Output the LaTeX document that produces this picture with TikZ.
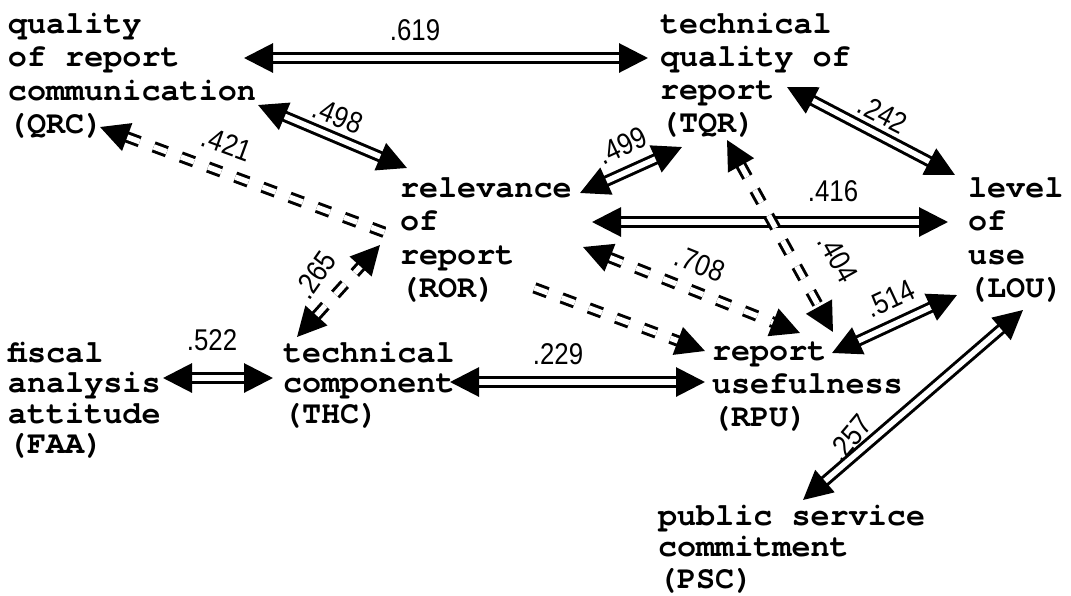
\documentclass[tikz,border=0pt]{standalone}
\usepackage{fontspec}
\usetikzlibrary{arrows.meta}
\newfontfamily\typefont{texgyrecursor-bold.otf}
\newfontfamily\numfont[FakeStretch=0.86]{Liberation Sans}
\newcommand\firstline{\rule{0pt}{24pt}}
\pgfdeclarelayer{edges}
\pgfdeclarelayer{mask}
\pgfsetlayers{edges,mask,main}

\tikzset{
  var/.style={anchor=north west, inner sep=0pt, outer sep=0pt, align=left,
    font=\typefont\fontsize{31.8}{#1}\selectfont},
  var/.default=33.5,
  link/.style={draw=black, line width=3pt, double=white, double distance=5.5pt,
    arrows={Triangle[length=29pt,width=29pt]-Triangle[length=29pt,width=29pt]}},
  broken/.style={link, dash pattern=on 14pt off 15pt},
  coef/.style={inner sep=0pt, font=\numfont\fontsize{30}{30}\selectfont},
}

\begin{document}
\begin{tikzpicture}[x=1pt, y=-1pt]
\useasboundingbox (0,0) rectangle (1071,595);

% variables
\node[var=33.5] (QRC) at (8,9)     {\firstline quality\\of report\\communication\\(QRC)};
\node[var=33]   (TQR) at (660,9)   {\firstline technical\\quality of\\report\\(TQR)};
\node[var]      (ROR) at (400,173) {\firstline relevance\\of\\report\\(ROR)};
\node[var]      (LOU) at (968,173) {\firstline level\\of\\use\\(LOU)};
\node[var=30.5] (FAA) at (8,338)   {\firstline fiscal\\analysis\\attitude\\(FAA)};
\node[var=30.5] (THC) at (283,338) {\firstline technical\\component\\(THC)};
\node[var=33]   (RPU) at (712,336) {\firstline report\\usefulness\\(RPU)};
\node[var=31.5] (PSC) at (658,501) {\firstline public service\\commitment\\(PSC)};

% path coefficients
\node[coef] (c619) at (415,30) {.619};
\node[coef, rotate=-22] (c498) at (338,116) {.498};
\node[coef, rotate=-20] (c421) at (227,144) {.421};
\node[coef, rotate=25]  (c499) at (622,146) {.499};
\node[coef, rotate=-27] (c242) at (883,114) {.242};
\node[coef] (c416) at (833,191) {.416};
\node[coef, rotate=-61] (c404) at (838,258) {.404};
\node[coef, rotate=-22] (c708) at (700,264) {.708};
\node[coef, rotate=55]  (c265) at (315,275) {.265};
\node[coef] (c522) at (212,340) {.522};
\node[coef] (c229) at (558,354) {.229};
\node[coef, rotate=25]  (c514) at (890,299) {.514};
\node[coef, rotate=50]  (c257) at (850,438) {.257};

% the long dashed path runs behind the ROR label
\begin{pgfonlayer}{mask}
  \fill[white] ([shift={(-14,27)}]ROR.north west) rectangle ([shift={(125,130)}]ROR.north west);
\end{pgfonlayer}

\begin{pgfonlayer}{edges}
  \draw[link]   ([shift={(236,49)}]QRC.north west) -- ([shift={(-12,49)}]TQR.north west);
  \draw[link]   ([shift={(250,96)}]QRC.north west) -- ([shift={(7,-5)}]ROR.north west);
  \draw[broken] ([shift={(92,118)}]QRC.north west) -- ([shift={(-7,15)}]RPU.north west);
  \draw[link]   ([shift={(180,20)}]ROR.north west) -- ([shift={(22,138)}]TQR.north west);
  \draw[link]   ([shift={(127,78)}]TQR.north west) -- ([shift={(-13,2)}]LOU.north west);
  \draw[link]   ([shift={(192,49)}]ROR.north west) -- ([shift={(-20,49)}]LOU.north west);
  \draw[broken] ([shift={(67,131)}]TQR.north west) -- ([shift={(121,-4)}]RPU.north west);
  \draw[broken] ([shift={(183,74)}]ROR.north west) -- ([shift={(88,-3)}]RPU.north west);
  \draw[broken] ([shift={(14,-1)}]THC.north west)  -- ([shift={(-20,72)}]ROR.north west);
  \draw[link]   ([shift={(155,40)}]FAA.north west) -- ([shift={(-10,40)}]THC.north west);
  \draw[link]   ([shift={(167,44)}]THC.north west) -- ([shift={(-7,46)}]RPU.north west);
  \draw[link]   ([shift={(120,17)}]RPU.north west) -- ([shift={(-11,122)}]LOU.north west);
  \draw[link]   ([shift={(55,137)}]LOU.north west) -- ([shift={(145,-1)}]PSC.north west);
\end{pgfonlayer}
\end{tikzpicture}
\end{document}
